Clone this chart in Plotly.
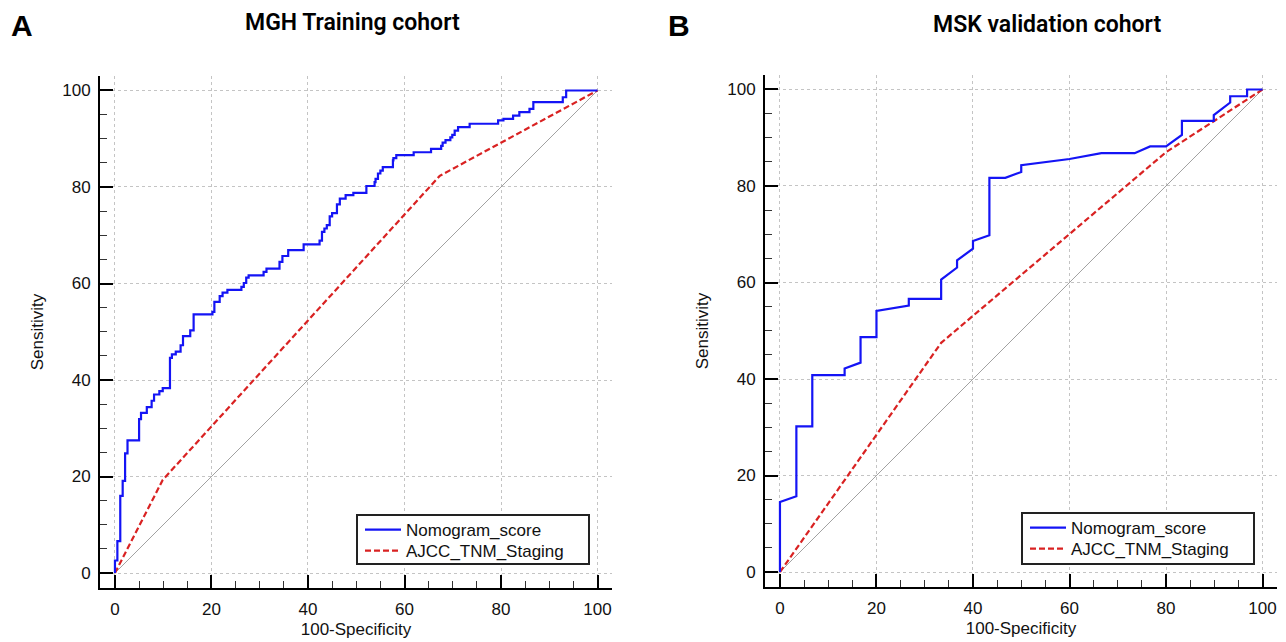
import plotly.graph_objects as go

# ---------------- data ----------------
# Panel A: MGH Training cohort, nomogram ROC (step points, drawn with hv shape)
mgh_nomo_fpr = [0, 0, 0.5, 1.1, 1.6, 2.1, 2.6, 5.0, 5.4, 6.6, 7.6, 8.1, 9.2, 9.9, 11.4, 11.8,
                12.6, 13.6, 14.1, 15.6, 16.3, 20.2, 20.6, 21.7, 22.3, 23.3, 26.2, 26.7, 27.2,
                27.7, 30.8, 31.4, 34.1, 34.7, 35.9, 39.1, 42.4, 42.9, 43.4, 43.9, 44.5, 45.0,
                46.0, 46.6, 47.8, 49.4, 52.1, 53.8, 54.0, 54.5, 55.0, 55.5, 57.6, 57.7, 58.3,
                61.9, 65.5, 67.6, 67.9, 68.5, 69.5, 69.9, 70.4, 71.1, 73.5, 79.4, 80.5, 82.5,
                83.8, 85.9, 86.7, 92.8, 93.5, 100]
mgh_nomo_tpr = [0, 2.6, 6.6, 16.0, 19.1, 24.8, 27.5, 31.9, 33.2, 34.4, 35.7, 37.0, 37.7, 38.3,
                44.6, 45.3, 45.9, 47.2, 49.1, 50.3, 53.6, 54.1, 56.2, 57.4, 58.1, 58.7, 59.3,
                60.1, 61.2, 61.7, 62.4, 63.1, 64.5, 65.7, 66.9, 68.1, 68.9, 70.7, 71.4, 72.1,
                73.9, 74.6, 76.4, 77.6, 78.3, 78.8, 80.2, 81.0, 81.7, 82.8, 83.4, 84.1, 85.5,
                86.0, 86.6, 87.2, 87.9, 88.5, 89.2, 89.7, 90.3, 90.8, 91.7, 92.4, 93.1, 93.8,
                94.1, 94.8, 95.5, 96.2, 97.6, 98.6, 100, 100]
mgh_ajcc_fpr = [0, 9.9, 67.3, 100]
mgh_ajcc_tpr = [0, 19.3, 82.3, 100]

# Panel B: MSK validation cohort (ROC vertices)
msk_nomo_fpr = [0, 0, 3.4, 3.4, 6.7, 6.7, 13.4, 13.4, 16.7, 16.7, 20.0, 20.0, 26.7, 26.7,
                33.4, 33.4, 36.7, 36.7, 40.0, 40.0, 43.4, 43.4, 46.7, 50.0, 50.0, 60.0, 66.6,
                73.5, 76.7, 80.0, 83.3, 83.3, 89.9, 89.9, 93.3, 93.3, 96.8, 96.8, 100]
msk_nomo_tpr = [0, 14.5, 15.7, 30.2, 30.2, 40.8, 40.8, 42.2, 43.4, 48.7, 48.7, 54.1, 55.2, 56.6,
                56.6, 60.6, 63.1, 64.6, 67.0, 68.6, 69.8, 81.7, 81.7, 82.9, 84.3, 85.6, 86.8,
                86.8, 88.2, 88.2, 90.6, 93.5, 93.5, 94.7, 97.3, 98.6, 98.6, 100, 100]
msk_ajcc_fpr = [0, 33.4, 80.0, 100]
msk_ajcc_tpr = [0, 47.5, 87.0, 100]

ref_line = [0, 100]
tick_vals = [0, 20, 40, 60, 80, 100]
series_names = ["Nomogram_score", "AJCC_TNM_Staging"]
panel_titles = ["MGH Training cohort", "MSK validation cohort"]
panel_letters = ["A", "B"]

# ---------------- layout helpers ----------------
# the page body adds an 8px margin, so the figure is 8px smaller and shifted
OFF = 8
W, H = 1286 - OFF, 642 - OFF


def px(xp):
    return (xp - OFF) / W


def py(yp):
    return 1 - (yp - OFF) / H


BLUE = "#1414f5"
RED = "#d92222"
FONT = "Liberation Sans, Arial, sans-serif"

fig = go.Figure()

# (xaxis, yaxis, legend for nomogram, legend for AJCC, ...)
panels = [
    ("x", "y", "legend", "legend2", mgh_nomo_fpr, mgh_nomo_tpr, "hv", mgh_ajcc_fpr, mgh_ajcc_tpr),
    ("x2", "y2", "legend3", "legend4", msk_nomo_fpr, msk_nomo_tpr, "linear", msk_ajcc_fpr,
     msk_ajcc_tpr),
]
for xa, ya, lg1, lg2, nx, ny, shape, ax, ay in panels:
    fig.add_trace(go.Scatter(x=ref_line, y=ref_line, mode="lines", xaxis=xa, yaxis=ya,
                             line=dict(color="#8a8a8a", width=0.8), showlegend=False,
                             hoverinfo="skip"))
    fig.add_trace(go.Scatter(x=ax, y=ay, mode="lines", xaxis=xa, yaxis=ya, legend=lg2,
                             name=series_names[1],
                             line=dict(color=RED, width=2.2, dash="6px,3px")))
    fig.add_trace(go.Scatter(x=nx, y=ny, mode="lines", xaxis=xa, yaxis=ya, legend=lg1,
                             name=series_names[0], line_shape=shape,
                             line=dict(color=BLUE, width=2.2)))

axis_common = dict(
    range=[-3.1, 103], tickvals=tick_vals, showgrid=True, gridcolor="#c4c4c4",
    griddash="dot", gridwidth=1, zeroline=False, showline=True, linecolor="black",
    linewidth=2, ticks="inside", ticklen=13, tickwidth=2, tickcolor="black",
    minor=dict(ticks="inside", ticklen=7, tickwidth=1, dtick=5, tick0=0,
               tickcolor="#333333", showgrid=False),
    tickfont=dict(family=FONT, size=17, color="#111111"),
    automargin=False, fixedrange=True,
)

xt = dict(text="100-Specificity", font=dict(family=FONT, size=17, color="#111111"), standoff=5)
yt = dict(text="Sensitivity", font=dict(family=FONT, size=17, color="#111111"), standoff=14)

legend_common = dict(xanchor="left", yanchor="middle", borderwidth=0,
                     bgcolor="rgba(0,0,0,0)", font=dict(family=FONT, size=17, color="#111111"),
                     itemwidth=36)

fig.update_layout(
    width=W, height=H,
    margin=dict(l=0, r=0, t=0, b=0),
    paper_bgcolor="white", plot_bgcolor="white",
    xaxis=dict(axis_common, domain=[px(100), px(612)], anchor="y", title=xt,
               ticklabelstandoff=5),
    yaxis=dict(axis_common, domain=[py(588), py(76)], anchor="x", title=yt,
               ticklabelstandoff=4),
    xaxis2=dict(axis_common, domain=[px(765), px(1277)], anchor="y2", title=xt,
                ticklabelstandoff=5),
    yaxis2=dict(axis_common, domain=[py(587), py(75)], anchor="x2", title=yt,
                ticklabelstandoff=4),
    legend=dict(legend_common, x=px(360), y=py(530)),
    legend2=dict(legend_common, x=px(360), y=py(551)),
    legend3=dict(legend_common, x=px(1025), y=py(528)),
    legend4=dict(legend_common, x=px(1025), y=py(549)),
    showlegend=True,
)

# legend frames
for x0, x1, y0, y1 in [(357, 589, 515, 564), (1022, 1254, 513, 564)]:
    fig.add_shape(type="rect", xref="paper", yref="paper", x0=px(x0), x1=px(x1),
                  y0=py(y1), y1=py(y0), line=dict(color="#222222", width=2),
                  fillcolor="white", layer="above")

title_font = dict(family="Roboto, Open Sans, sans-serif", size=23, color="black", weight=600)
letter_font = dict(family="Liberation Sans, Arial, sans-serif", size=30, color="black",
                   weight="bold")
for xp, yp, txt, f in [(352, 8, panel_titles[0], title_font),
                       (1047, 10, panel_titles[1], title_font),
                       (22, 8, panel_letters[0], letter_font),
                       (679, 8, panel_letters[1], letter_font)]:
    fig.add_annotation(x=px(xp), y=py(yp), xref="paper", yref="paper", text=txt,
                       showarrow=False, font=f, xanchor="center", yanchor="top",
                       borderpad=0)

fig.write_html("out.html")
